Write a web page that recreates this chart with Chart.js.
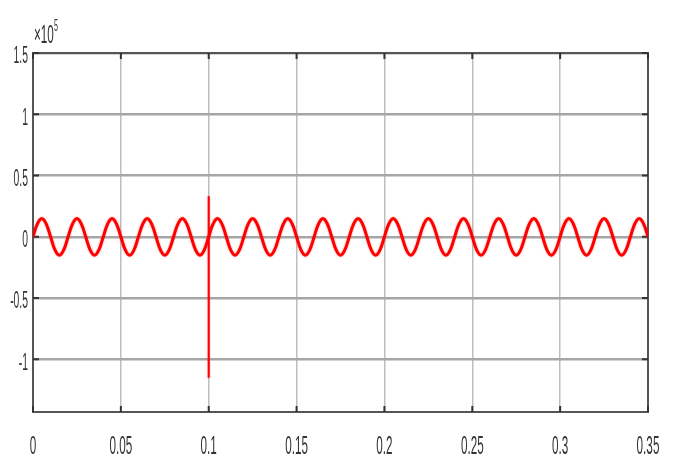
<!DOCTYPE html>
<html>
<head>
<meta charset="utf-8">
<title>Signal</title>
<script src="https://cdn.jsdelivr.net/npm/chart.js@4"></script>
<style>
  html, body { margin:0; padding:0; background:#fff; }
  #wrap { width:675px; height:456px; position:relative; }
</style>
</head>
<body>
<div id="wrap"><canvas id="chartSignal"></canvas></div>
<script>
// ============================================================
// Data
// ============================================================
const tSamples = [
  0,    0.0025, 0.005,  0.0075, 0.01, 0.0125, 0.015, 0.0175,
  0.02, 0.0225, 0.025,  0.0275, 0.03, 0.0325, 0.035, 0.0375,
  0.04, 0.0425, 0.045,  0.0475, 0.05, 0.0525, 0.055, 0.0575,
  0.06, 0.0625, 0.065,  0.0675, 0.07, 0.0725, 0.075, 0.0775,
  0.08, 0.0825, 0.085,  0.0875, 0.09, 0.0925, 0.095, 0.0975,
  0.1,  0.1025, 0.105,  0.1075, 0.11, 0.1125, 0.115, 0.1175,
  0.12, 0.1225, 0.125,  0.1275, 0.13, 0.1325, 0.135, 0.1375,
  0.14, 0.1425, 0.145,  0.1475, 0.15, 0.1525, 0.155, 0.1575,
  0.16, 0.1625, 0.165,  0.1675, 0.17, 0.1725, 0.175, 0.1775,
  0.18, 0.1825, 0.185,  0.1875, 0.19, 0.1925, 0.195, 0.1975,
  0.2,  0.2025, 0.205,  0.2075, 0.21, 0.2125, 0.215, 0.2175,
  0.22, 0.2225, 0.225,  0.2275, 0.23, 0.2325, 0.235, 0.2375,
  0.24, 0.2425, 0.245,  0.2475, 0.25, 0.2525, 0.255, 0.2575,
  0.26, 0.2625, 0.265,  0.2675, 0.27, 0.2725, 0.275, 0.2775,
  0.28, 0.2825, 0.285,  0.2875, 0.29, 0.2925, 0.295, 0.2975,
  0.3,  0.3025, 0.305,  0.3075, 0.31, 0.3125, 0.315, 0.3175,
  0.32, 0.3225, 0.325,  0.3275, 0.33, 0.3325, 0.335, 0.3375,
  0.34, 0.3425, 0.345,  0.3475, 0.35,
];

const signalValues = [
  0, 10600, 15000, 10600, 0, -10600, -15000, -10600,
  0, 10600, 15000, 10600, 0, -10600, -15000, -10600,
  0, 10600, 15000, 10600, 0, -10600, -15000, -10600,
  0, 10600, 15000, 10600, 0, -10600, -15000, -10600,
  0, 10600, 15000, 10600, 0, -10600, -15000, -10600,
  0, 10600, 15000, 10600, 0, -10600, -15000, -10600,
  0, 10600, 15000, 10600, 0, -10600, -15000, -10600,
  0, 10600, 15000, 10600, 0, -10600, -15000, -10600,
  0, 10600, 15000, 10600, 0, -10600, -15000, -10600,
  0, 10600, 15000, 10600, 0, -10600, -15000, -10600,
  0, 10600, 15000, 10600, 0, -10600, -15000, -10600,
  0, 10600, 15000, 10600, 0, -10600, -15000, -10600,
  0, 10600, 15000, 10600, 0, -10600, -15000, -10600,
  0, 10600, 15000, 10600, 0, -10600, -15000, -10600,
  0, 10600, 15000, 10600, 0, -10600, -15000, -10600,
  0, 10600, 15000, 10600, 0, -10600, -15000, -10600,
  0, 10600, 15000, 10600, 0, -10600, -15000, -10600,
  0, 10600, 15000, 10600, 0,
];

// transient at t = 0.1
const spikeTimes  = [0.1, 0.1];
const spikeValues = [33000, -115000];

const xTickValues = [0, 0.05, 0.1, 0.15, 0.2, 0.25, 0.3, 0.35];
const xTickLabels = ['0', '0.05', '0.1', '0.15', '0.2', '0.25', '0.3', '0.35'];
const yTickValues = [-100000, -50000, 0, 50000, 100000, 150000];
const yTickLabels = ['-1', '-0.5', '0', '0.5', '1', '1.5'];

const X_MIN = 0, X_MAX = 0.35;
const Y_MIN = -143000, Y_MAX = 150000;

// ============================================================
// Frame, tick marks and squeezed MATLAB-like labels
// ============================================================
const FONT = '"Liberation Sans", Arial, sans-serif';
const TEXT_COLOR = '#333';
const SQUEEZE = 0.45;

function squeezedText(ctx, str, x, y, size, align, baseline) {
  ctx.save();
  ctx.font = size + 'px ' + FONT;
  ctx.fillStyle = TEXT_COLOR;
  ctx.textAlign = align;
  ctx.textBaseline = baseline;
  ctx.translate(x, y);
  ctx.scale(SQUEEZE, 1);
  ctx.fillText(str, 0, 0);
  ctx.restore();
}

const matlabAxes = {
  id: 'matlabAxes',
  beforeDatasetsDraw(chart) {
    const { ctx, chartArea: a, scales: { x, y } } = chart;
    ctx.save();
    ctx.strokeStyle = '#555';
    ctx.lineWidth = 2;
    ctx.strokeRect(a.left, a.top, a.right - a.left, a.bottom - a.top);

    // inward ticks on all sides
    ctx.lineWidth = 2;
    ctx.strokeStyle = '#333';
    ctx.beginPath();
    yTickValues.forEach(v => {
      const py = y.getPixelForValue(v);
      ctx.moveTo(a.left, py);  ctx.lineTo(a.left + 6, py);
      ctx.moveTo(a.right, py); ctx.lineTo(a.right - 6, py);
    });
    xTickValues.forEach(v => {
      const px = x.getPixelForValue(v);
      ctx.moveTo(px, a.bottom); ctx.lineTo(px, a.bottom - 6);
      ctx.moveTo(px, a.top);    ctx.lineTo(px, a.top + 6);
    });
    ctx.stroke();
    ctx.restore();
  },
  afterDraw(chart) {
    const { ctx, chartArea: a, scales: { x, y } } = chart;

    yTickValues.forEach((v, i) => {
      squeezedText(ctx, yTickLabels[i], a.left - 5, y.getPixelForValue(v) + 4, 23, 'right', 'middle');
    });
    xTickValues.forEach((v, i) => {
      squeezedText(ctx, xTickLabels[i], x.getPixelForValue(v), a.bottom + 42, 26, 'center', 'alphabetic');
    });

    // exponent label
    squeezedText(ctx, '\u00d710', a.left + 1, a.top - 10, 26, 'left', 'alphabetic');
    squeezedText(ctx, '5', a.left + 21, a.top - 22, 16, 'left', 'alphabetic');
  },
};

const glow = {
  id: 'glow',
  beforeDatasetDraw(chart) {
    chart.ctx.save();
    chart.ctx.shadowColor = 'rgba(255,0,0,0.45)';
    chart.ctx.shadowBlur = 2;
  },
  afterDatasetDraw(chart) {
    chart.ctx.restore();
  },
};

// ============================================================
// Chart
// ============================================================
const signalPoints = tSamples.map((t, i) => ({ x: t, y: signalValues[i] }));
const spikePoints  = spikeTimes.map((t, i) => ({ x: t, y: spikeValues[i] }));

new Chart(document.getElementById('chartSignal'), {
  type: 'line',
  data: {
    datasets: [
      { label: 'signal', data: signalPoints, borderColor: '#ff0000', borderWidth: 3,
        pointRadius: 0, tension: 0.4, fill: false },
      { label: 'spike', data: spikePoints, borderColor: '#ff0000', borderWidth: 2,
        pointRadius: 0, tension: 0, fill: false },
    ],
  },
  options: {
    responsive: true, maintainAspectRatio: false, animation: false,
    layout: { padding: { left: 33, right: 27, top: 53, bottom: 44 } },
    plugins: { legend: { display: false }, tooltip: { enabled: false } },
    scales: {
      x: {
        type: 'linear', min: X_MIN, max: X_MAX,
        afterBuildTicks: s => { s.ticks = xTickValues.map(v => ({ value: v })); },
        afterFit: s => { s.height = 0; },
        ticks: { display: false },
        grid: { color: '#bdbdbd', lineWidth: 1.5, drawTicks: false },
        border: { display: false },
      },
      y: {
        type: 'linear', min: Y_MIN, max: Y_MAX,
        afterBuildTicks: s => { s.ticks = yTickValues.map(v => ({ value: v })); },
        afterFit: s => { s.width = 0; },
        ticks: { display: false },
        grid: { color: '#a6a6a6', lineWidth: 2.5, drawTicks: false },
        border: { display: false },
      },
    },
  },
  plugins: [matlabAxes, glow],
});
</script>
</body>
</html>
